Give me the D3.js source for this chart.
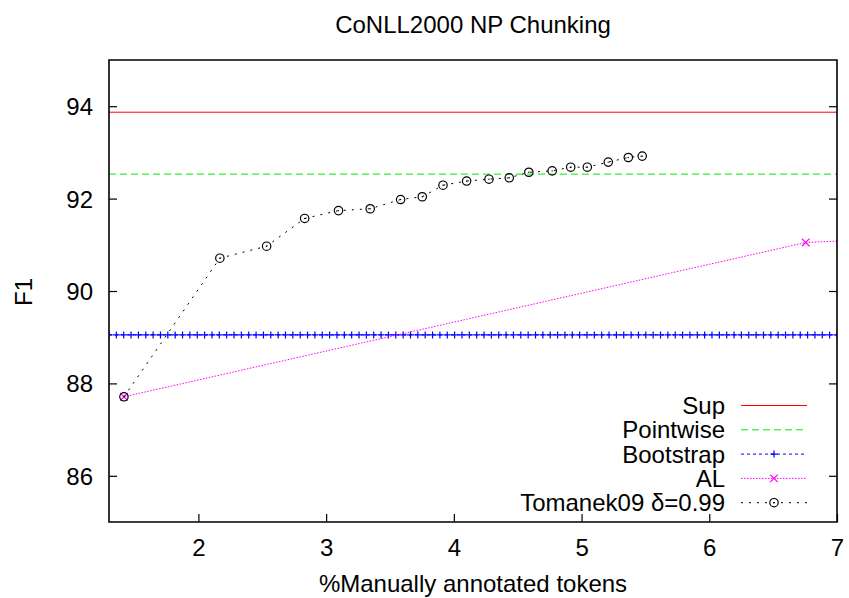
<!DOCTYPE html>
<html>
<head>
<meta charset="utf-8">
<script src="https://cdn.jsdelivr.net/npm/d3@7"></script>
<style>
  html, body { margin: 0; padding: 0; background: #fff; }
  svg { display: block; }
  text { font-family: "Liberation Sans", Arial, Helvetica, sans-serif; fill: #000; }
</style>
</head>
<body>
<script>
// ---- data ----
const title = "CoNLL2000 NP Chunking";
const xLabel = "%Manually annotated tokens";
const yLabel = "F1";
const xTicks = [2, 3, 4, 5, 6, 7];
const yTicks = [86, 88, 90, 92, 94];
const xDomain = [1.3, 7];
const yDomain = [85, 95];

// horizontal reference results
const supF1 = 93.87;
const pointwiseF1 = 92.53;
const bootstrapF1 = 89.05;
const bootstrapSamples = 100;

// active learning curve
const alX = [1.417, 6.755, 8.5];
const alF1 = [87.71, 91.05, 91.27];

// Tomanek09 delta=0.99
const tomanekX = [1.417, 2.168, 2.534, 2.832, 3.097, 3.345, 3.583, 3.753, 3.915, 4.100,
                  4.275, 4.434, 4.587, 4.770, 4.915, 5.045, 5.209, 5.366, 5.475];
const tomanekF1 = [87.71, 90.71, 90.97, 91.57, 91.74, 91.78, 91.98, 92.04, 92.29, 92.38,
                   92.42, 92.45, 92.57, 92.60, 92.68, 92.68, 92.79, 92.89, 92.92];

const legendNames = ["Sup", "Pointwise", "Bootstrap", "AL", "Tomanek09 \u03b4=0.99"];

// ---- layout ----
const W = 849, H = 598;
const plot = { left: 109, right: 837, top: 60, bottom: 522 };
const FONT = 24;

const svg = d3.select("body").append("svg").attr("width", W).attr("height", H);

const x = d3.scaleLinear().domain(xDomain).range([plot.left, plot.right]);
const y = d3.scaleLinear().domain(yDomain).range([plot.bottom, plot.top]);

svg.append("defs").append("clipPath").attr("id", "clip")
  .append("rect")
  .attr("x", plot.left).attr("y", plot.top)
  .attr("width", plot.right - plot.left).attr("height", plot.bottom - plot.top);

const styles = {
  sup:       { color: "#ff0000", dash: null },
  pointwise: { color: "#00ee00", dash: "7,4" },
  bootstrap: { color: "#0000ff", dash: "3,3" },
  al:        { color: "#ff00ff", dash: "1.5,1.5" },
  tomanek:   { color: "#000000", dash: "2,6" }
};

// ---- axes ----
const tickLen = 8;
// bottom axis: ticks pointing into the plot
const xAxis = d3.axisBottom(x).tickValues(xTicks).tickFormat(d3.format("d"))
  .tickSizeInner(-tickLen).tickSizeOuter(0).tickPadding(16);
const gx = svg.append("g").attr("transform", `translate(0,${plot.bottom})`).call(xAxis);
gx.select(".domain").remove();
gx.selectAll("line").attr("stroke", "#000").attr("stroke-width", 1.2);
gx.selectAll("text").attr("font-size", FONT).attr("font-family", null)
  .attr("dy", null).attr("y", 25).attr("dominant-baseline", "central");

// left axis
const yAxis = d3.axisLeft(y).tickValues(yTicks).tickFormat(d3.format("d"))
  .tickSizeInner(-tickLen).tickSizeOuter(0).tickPadding(16);
const gy = svg.append("g").attr("transform", `translate(${plot.left},0)`).call(yAxis);
gy.select(".domain").remove();
gy.selectAll("line").attr("stroke", "#000").attr("stroke-width", 1.2);
gy.selectAll("text").attr("font-size", FONT).attr("font-family", null)
  .attr("dy", null).attr("x", -16).attr("dominant-baseline", "central");

// right mirror ticks
const yAxisR = d3.axisRight(y).tickValues(yTicks).tickFormat("")
  .tickSizeInner(-tickLen).tickSizeOuter(0);
const gyr = svg.append("g").attr("transform", `translate(${plot.right},0)`).call(yAxisR);
gyr.select(".domain").remove();
gyr.selectAll("line").attr("stroke", "#000").attr("stroke-width", 1.2);

// ---- series ----
const g = svg.append("g").attr("clip-path", "url(#clip)");
const line = d3.line().x(d => x(d[0])).y(d => y(d[1]));

function hline(val, st) {
  g.append("path")
    .attr("d", line([[xDomain[0], val], [xDomain[1], val]]))
    .attr("fill", "none").attr("stroke", st.color).attr("stroke-width", 1)
    .attr("stroke-dasharray", st.dash);
}
hline(supF1, styles.sup);
hline(pointwiseF1, styles.pointwise);
hline(bootstrapF1, styles.bootstrap);

// bootstrap is a constant, sampled across the x range for its markers
const bootX = d3.range(bootstrapSamples).map(i =>
  xDomain[0] + i * (xDomain[1] - xDomain[0]) / (bootstrapSamples - 1));

function plus(sel, cx, cy, r, color) {
  sel.append("path")
    .attr("d", `M${cx - r},${cy}H${cx + r}M${cx},${cy - r}V${cy + r}`)
    .attr("stroke", color).attr("stroke-width", 1.2).attr("fill", "none");
}
function cross(sel, cx, cy, r, color) {
  sel.append("path")
    .attr("d", `M${cx - r},${cy - r}L${cx + r},${cy + r}M${cx - r},${cy + r}L${cx + r},${cy - r}`)
    .attr("stroke", color).attr("stroke-width", 1.2).attr("fill", "none");
}
function ring(sel, cx, cy, r, color) {
  sel.append("circle").attr("cx", cx).attr("cy", cy).attr("r", r)
    .attr("fill", "none").attr("stroke", color).attr("stroke-width", 1.2);
  sel.append("circle").attr("cx", cx).attr("cy", cy).attr("r", 0.7).attr("fill", color);
}

bootX.forEach(v => plus(g, x(v), y(bootstrapF1), 3.5, styles.bootstrap.color));

// AL
const alData = alX.map((v, i) => [v, alF1[i]]);
g.append("path").attr("d", line(alData))
  .attr("fill", "none").attr("stroke", styles.al.color).attr("stroke-width", 1)
  .attr("stroke-dasharray", styles.al.dash);
alData.forEach(d => cross(g, x(d[0]), y(d[1]), 3.8, styles.al.color));

// Tomanek09
const tomData = tomanekX.map((v, i) => [v, tomanekF1[i]]);
g.append("path").attr("d", line(tomData))
  .attr("fill", "none").attr("stroke", styles.tomanek.color).attr("stroke-width", 1)
  .attr("stroke-dasharray", styles.tomanek.dash);
tomData.forEach(d => ring(g, x(d[0]), y(d[1]), 4.2, styles.tomanek.color));

// ---- frame ----
svg.append("path")
  .attr("d", `M${plot.left},${plot.top}H${plot.right}V${plot.bottom}H${plot.left}Z`)
  .attr("fill", "none").attr("stroke", "#000").attr("stroke-width", 1.6);

// ---- legend ----
const legTextX = 725, legX0 = 741, legX1 = 807, legY0 = 405.5, legStep = 24.3;
const legStyles = [styles.sup, styles.pointwise, styles.bootstrap, styles.al, styles.tomanek];
const leg = svg.append("g");
legendNames.forEach((name, i) => {
  const cy = legY0 + i * legStep;
  leg.append("text").attr("x", legTextX).attr("y", cy)
    .attr("text-anchor", "end").attr("dominant-baseline", "central")
    .attr("font-size", FONT).text(name);
  const st = legStyles[i];
  leg.append("path").attr("d", `M${legX0},${cy}H${legX1}`)
    .attr("stroke", st.color).attr("stroke-width", 1).attr("fill", "none")
    .attr("stroke-dasharray", st.dash);
  const mx = (legX0 + legX1) / 2;
  if (i === 2) plus(leg, mx, cy, 3.5, st.color);
  if (i === 3) cross(leg, mx, cy, 3.8, st.color);
  if (i === 4) ring(leg, mx, cy, 4.2, st.color);
});

// ---- titles ----
svg.append("text").attr("x", (plot.left + plot.right) / 2).attr("y", 24)
  .attr("text-anchor", "middle").attr("dominant-baseline", "central")
  .attr("font-size", FONT).text(title);
svg.append("text").attr("x", (plot.left + plot.right) / 2).attr("y", 583)
  .attr("text-anchor", "middle").attr("dominant-baseline", "central")
  .attr("font-size", FONT).text(xLabel);
svg.append("text").attr("transform", `translate(23,292) rotate(-90)`)
  .attr("text-anchor", "middle").attr("dominant-baseline", "central")
  .attr("font-size", FONT).text(yLabel);
</script>
</body>
</html>
